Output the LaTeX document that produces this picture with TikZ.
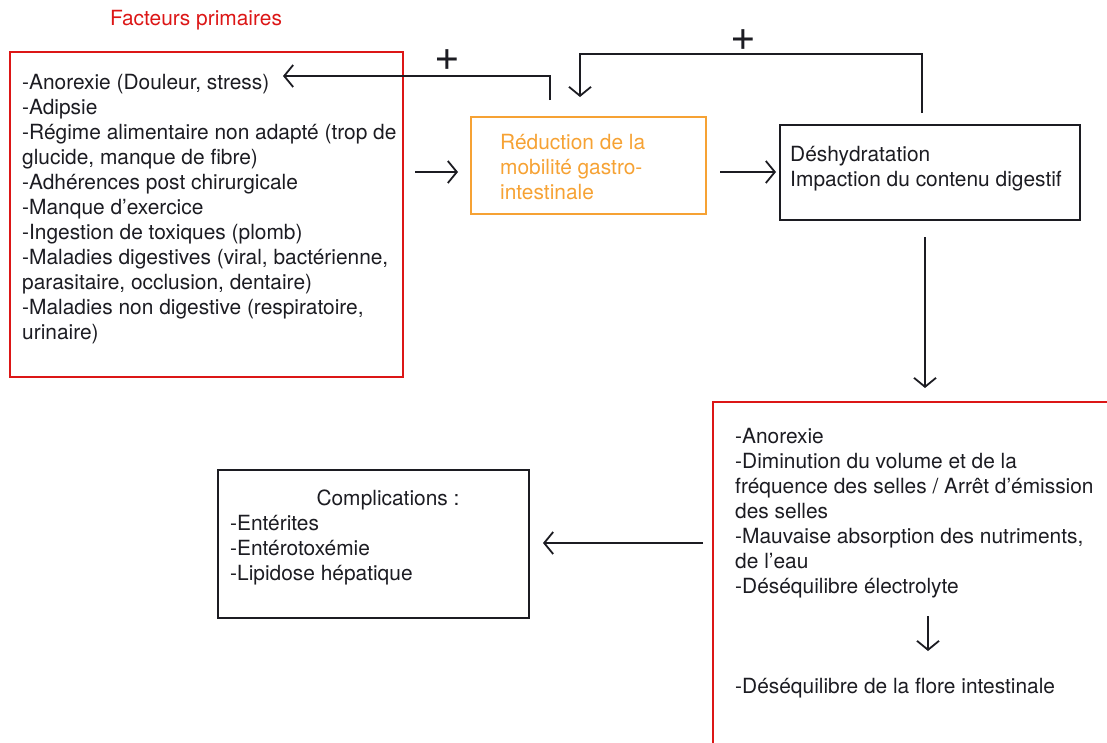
\documentclass[tikz,border=0pt]{standalone}
\usepackage{fontspec}
\setmainfont{TeX Gyre Heros}
\usetikzlibrary{arrows.meta}
\definecolor{rougecadre}{RGB}{220,22,22}
\definecolor{orangemob}{RGB}{246,162,52}
\definecolor{encre}{RGB}{28,28,34}

\begin{document}
\begin{tikzpicture}[x=1pt, y=-1pt,
	cadre/.style={draw=#1, line width=2pt, inner sep=0pt},
	texte/.style={text=encre, align=left, inner sep=0pt, anchor=north west, font=\fontsize{20.9}{25}\selectfont},
	fleche/.style={draw=encre, line width=1.8pt, -{Straight Barb[length=9pt,width=22pt]}},
	plus/.style={text=encre, inner sep=0pt, font=\fontsize{44}{44}\selectfont}]
		%%%%% START %%%%%
		\useasboundingbox (0,0) rectangle (1107,742);
		
		% facteurs primaires
		\node[texte, anchor=center, text=rougecadre] (titre) at (196,20) {Facteurs primaires};
		\node[cadre=rougecadre, minimum width=393pt, minimum height=325pt] (primaires) at (206.5,214.5) {};
		\node[texte] (primtxt) at (22,74) {-Anorexie (Douleur, stress)\\-Adipsie\\-Régime alimentaire non adapté (trop de\\glucide, manque de fibre)\\-Adhérences post chirurgicale\\-Manque d’exercice\\-Ingestion de toxiques (plomb)\\-Maladies digestives (viral, bactérienne,\\parasitaire, occlusion, dentaire)\\-Maladies non digestive (respiratoire,\\urinaire)};
		
		% reduction de la mobilite
		\node[cadre=orangemob, minimum width=235pt, minimum height=97pt] (reduction) at (588.5,165.5) {};
		\node[texte, text=orangemob] (redtxt) at (500,134) {Réduction de la\\mobilité gastro-\\intestinale};
		
		% deshydratation
		\node[cadre=encre, minimum width=300pt, minimum height=95pt] (deshyd) at (930,172.5) {};
		\node[texte] (deshtxt) at (790,146) {Déshydratation\\Impaction du contenu digestif};
		
		% signes cliniques
		\node[cadre=rougecadre, minimum width=420pt, minimum height=370pt] (signes) at (923,587) {};
		\node[texte] (signtxt) at (735,428) {-Anorexie\\-Diminution du volume et de la\\fréquence des selles / Arrêt d’émission\\des selles\\-Mauvaise absorption des nutriments,\\de l’eau\\-Déséquilibre électrolyte};
		\node[texte] (floretxt) at (735,678) {-Déséquilibre de la flore intestinale};
		
		% complications
		\node[cadre=encre, minimum width=311pt, minimum height=148pt] (complic) at (373.5,544) {};
		\node[texte, anchor=center] (comptitre) at (388,500) {Complications :};
		\node[texte] (comptxt) at (230,515) {-Entérites\\-Entérotoxémie\\-Lipidose hépatique};
		
		% retours positifs
		\coordinate (r1a) at (550,100);
		\coordinate (r1b) at (283,76);
		\draw[fleche] (r1a) |- (r1b);
		\node[plus] (plus1) at (447,60) {+};
		
		\coordinate (r2a) at (922,113);
		\coordinate (r2b) at (580,97);
		\draw[fleche] (r2a) -- (922,54) -| (r2b);
		\node[plus] (plus2) at (743,40) {+};
		
		% fleches
		\coordinate (f1a) at (415,172);
		\coordinate (f1b) at (458,172);
		\draw[fleche] (f1a) -- (f1b);
		\coordinate (f2a) at (720,172);
		\coordinate (f2b) at (776,172);
		\draw[fleche] (f2a) -- (f2b);
		\coordinate (f3a) at (925,237);
		\coordinate (f3b) at (925,388);
		\draw[fleche] (f3a) -- (f3b);
		\coordinate (f4a) at (928,616);
		\coordinate (f4b) at (928,651);
		\draw[fleche] (f4a) -- (f4b);
		\coordinate (f5a) at (703,543);
		\coordinate (f5b) at (543,543);
		\draw[fleche] (f5a) -- (f5b);
		
		%%%%% END %%%%%
	\end{tikzpicture}
\end{document}
